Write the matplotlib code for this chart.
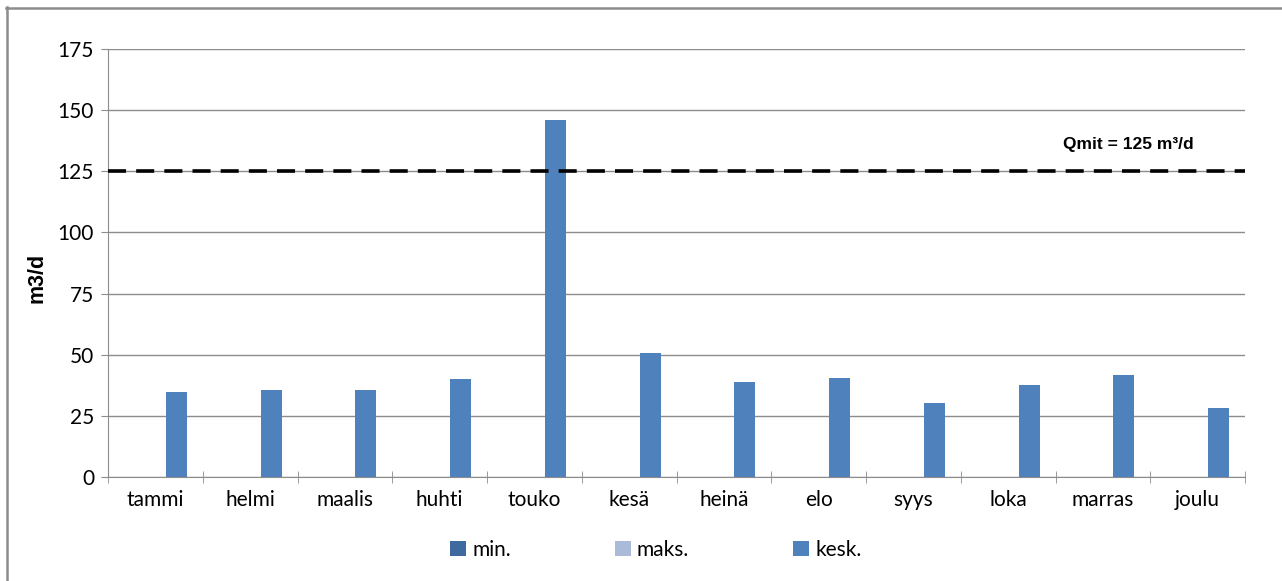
import matplotlib.pyplot as plt
import numpy as np
from matplotlib.lines import Line2D

months = ['tammi', 'helmi', 'maalis', 'huhti', 'touko', 'kesä',
          'heinä', 'elo', 'syys', 'loka', 'marras', 'joulu']
min_vals = [0] * 12
maks_vals = [0] * 12
kesk_vals = [34.8, 35.5, 35.5, 40.0, 146.0, 50.7, 38.9, 40.5, 30.3, 37.6, 41.7, 28.2]
q_mit = 125

plt.rcParams['font.family'] = ['Lato', 'DejaVu Sans']

W, H = 1282, 581
fig = plt.figure(figsize=(W / 100, H / 100), dpi=100)
ax = fig.add_axes([108 / W, 1 - 477 / H, 1137 / W, 428 / H])

x = np.arange(len(months))
w = 1 / 4.5
ax.bar(x - w, min_vals, w, color='#3F6A9F', label='min.')
ax.bar(x, maks_vals, w, color='#AABAD7', label='maks.')
ax.bar(x + w, kesk_vals, w, color='#4F81BD', label='kesk.')

ax.axhline(q_mit, color='black', lw=2.6, ls=(0, (5, 2.8)), zorder=3)
ax.text(10.27, 135.8, 'Qmit = 125 m³/d', ha='center', va='center',
        fontsize=12.5, fontweight='bold', family='Liberation Sans')

ax.set_xlim(-0.5, 11.5)
ax.set_ylim(0, 175)
ax.set_yticks(np.arange(0, 176, 25))
ax.yaxis.grid(True, color='#8C8C8C', lw=1)
ax.set_axisbelow(True)
ax.tick_params(axis='y', labelsize=15, length=5, color='#8C8C8C', pad=5)

ax.set_xticks(x)
ax.set_xticklabels(months, fontsize=15)
ax.tick_params(axis='x', length=0, pad=9)
ax.set_xticks(np.arange(-0.5, 12, 1), minor=True)
ax.tick_params(axis='x', which='minor', length=8, color='#8C8C8C',
               direction='inout')

for side in ['top', 'right']:
    ax.spines[side].set_visible(False)
for side in ['left', 'bottom']:
    ax.spines[side].set_color('#8C8C8C')

fig.text(37 / W, 1 - 278 / H, 'm3/d', rotation=90, ha='center', va='center',
         fontsize=15.5, fontweight='bold', family='Liberation Sans')

ax.legend(loc='center', bbox_to_anchor=(656 / W, 1 - 550 / H),
          bbox_transform=fig.transFigure, ncol=3, frameon=False,
          fontsize=15, handlelength=0.75, handleheight=0.75,
          columnspacing=5.0, handletextpad=0.3)

# frame edges along the top and left of the figure
fig.add_artist(Line2D([6 / W, 1], [1 - 7.5 / H, 1 - 7.5 / H],
                      transform=fig.transFigure, color='#8C8C8C', lw=1.8))
fig.add_artist(Line2D([6.5 / W, 6.5 / W], [0, 1 - 7 / H],
                      transform=fig.transFigure, color='#8C8C8C', lw=1.8))

fig.savefig('out.png', dpi=100)
